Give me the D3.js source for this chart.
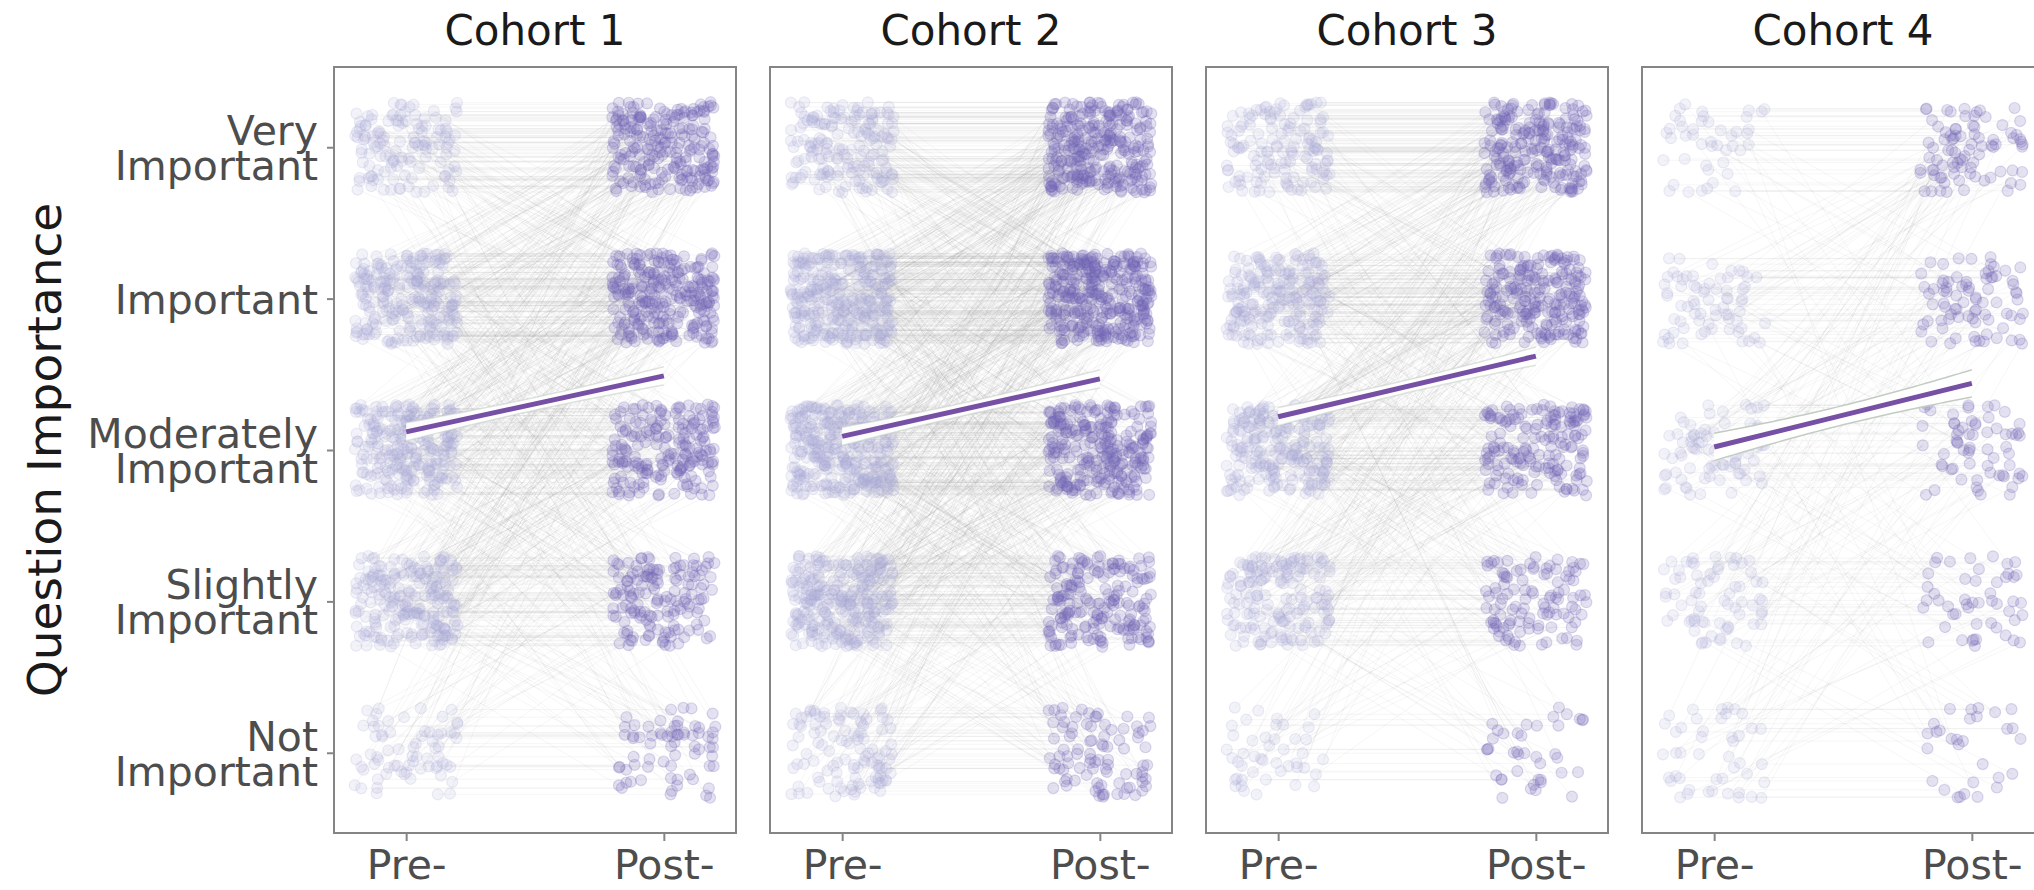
<!DOCTYPE html>
<html>
<head>
<meta charset="utf-8">
<script src="https://cdn.jsdelivr.net/npm/d3@7"></script>
<style>
  body { margin: 0; background: #ffffff; }
  svg { display: block; }
</style>
</head>
<body>
<svg id="chart" width="2034" height="890"></svg>
<script>
// ---- data -------------------------------------------------------------
const cohorts = ["Cohort 1", "Cohort 2", "Cohort 3", "Cohort 4"];
// response levels, lowest first (value 1..5)
const levels = ["Not Important", "Slightly Important", "Moderately Important", "Important", "Very Important"];
const levelTicks = [["Not", "Important"], ["Slightly", "Important"], ["Moderately", "Important"], ["Important"], ["Very", "Important"]];
const times = ["Pre-", "Post-"];

// number of respondents moving from a pre level (row) to a post level (column),
// rows/columns ordered Not → Slightly → Moderately → Important → Very
const transitionsC1 = [
  [24, 14, 14, 11,  7],
  [20, 70, 60, 44, 26],
  [14, 40, 80, 78, 48],
  [ 8, 18, 36,100, 78],
  [ 4,  8, 10, 37, 71]
];
const transitionsC2 = [
  [34, 22, 24, 18, 12],
  [26, 90, 80, 52, 32],
  [16, 48,110, 90, 56],
  [10, 22, 44,140,104],
  [ 4,  8, 12, 50, 96]
];
const transitionsC3 = [
  [12, 10, 10,  8,  5],
  [12, 52, 46, 38, 22],
  [ 8, 30, 76, 66, 40],
  [ 6, 12, 28, 96, 68],
  [ 2,  6, 10, 22,100]
];
const transitionsC4 = [
  [14,  9, 10,  7,  5],
  [ 8, 24, 16, 13,  9],
  [ 5, 11, 27, 20, 17],
  [ 2,  4,  9, 32, 23],
  [ 1,  2,  3,  8, 31]
];
const transitions = [transitionsC1, transitionsC2, transitionsC3, transitionsC4];

// fitted trend (pre → post) and half width of its confidence band at the ends
const fitPre  = [3.12, 3.09, 3.22, 3.02];
const fitPost = [3.49, 3.47, 3.62, 3.44];
const fitCI   = [0.06, 0.06, 0.06, 0.09];

// ---- layout -----------------------------------------------------------
const W = 2034, H = 890;
const panelTop = 67, panelH = 766, panelW = 402;
const panelLeft0 = 334, panelStep = 436;
const jitterX = 0.2, jitterY = 0.3;

const svg = d3.select("#chart");
svg.append("rect").attr("width", W).attr("height", H).attr("fill", "#ffffff");

const x = d3.scaleLinear().domain([0.72, 2.28]).range([0, panelW]);
const y = d3.scaleLinear().domain([0.47, 5.53]).range([panelH, 0]);

// jitter offsets in [0,1) taken from an integer hash of the respondent index,
// so the scatter is identical on every render
function hash01(n) {
  let h = (n + 0x9e3779b9) | 0;
  h = Math.imul(h ^ (h >>> 16), 0x85ebca6b);
  h = Math.imul(h ^ (h >>> 13), 0xc2b2ae35);
  h ^= h >>> 16;
  return (h >>> 0) / 4294967296;
}

let k = 0;
const participants = cohorts.map((c, ci) => {
  const list = [];
  transitions[ci].forEach((row, p) => {
    row.forEach((n, q) => {
      for (let i = 0; i < n; i++) {
        k++;
        const u = hash01(3 * k), v = hash01(3 * k + 1), w = hash01(3 * k + 2);
        const dy = (w * 2 - 1) * jitterY;
        list.push({
          xPre: 1 + (u * 2 - 1) * jitterX,
          xPost: 2 + (v * 2 - 1) * jitterX,
          yPre: p + 1 + dy,
          yPost: q + 1 + dy
        });
      }
    });
  });
  return list;
});

const defs = svg.append("defs");
defs.append("clipPath").attr("id", "panel-clip")
  .append("rect").attr("width", panelW).attr("height", panelH);

const preColor = "#aaa8d8", postColor = "#7066b6";
const fitColor = "#7650a4";

cohorts.forEach((name, ci) => {
  const g = svg.append("g")
    .attr("transform", `translate(${panelLeft0 + ci * panelStep},${panelTop})`);

  const body = g.append("g").attr("clip-path", "url(#panel-clip)");

  // paired lines
  body.append("g")
    .selectAll("line")
    .data(participants[ci])
    .join("line")
    .attr("x1", d => x(d.xPre)).attr("y1", d => y(d.yPre))
    .attr("x2", d => x(d.xPost)).attr("y2", d => y(d.yPost))
    .attr("stroke", "#808080")
    .attr("stroke-opacity", 0.075)
    .attr("stroke-width", 1);

  // pre points
  body.append("g")
    .selectAll("circle")
    .data(participants[ci])
    .join("circle")
    .attr("cx", d => x(d.xPre)).attr("cy", d => y(d.yPre))
    .attr("r", 5.5)
    .attr("fill", preColor).attr("fill-opacity", 0.15)
    .attr("stroke", preColor).attr("stroke-opacity", 0.2).attr("stroke-width", 1.2);

  // post points
  body.append("g")
    .selectAll("circle")
    .data(participants[ci])
    .join("circle")
    .attr("cx", d => x(d.xPost)).attr("cy", d => y(d.yPost))
    .attr("r", 5.5)
    .attr("fill", postColor).attr("fill-opacity", 0.19)
    .attr("stroke", postColor).attr("stroke-opacity", 0.24).attr("stroke-width", 1.2);

  // fitted trend with its confidence band
  const xs = d3.range(0, 41).map(i => 1 + i / 40);
  const fit = t => fitPre[ci] + (fitPost[ci] - fitPre[ci]) * (t - 1);
  const half = t => fitCI[ci] * Math.sqrt((2 - t) * (2 - t) + (t - 1) * (t - 1));
  body.append("path")
    .datum(xs)
    .attr("d", d3.area().x(t => x(t)).y0(t => y(fit(t) - half(t))).y1(t => y(fit(t) + half(t))))
    .attr("fill", "#ffffff").attr("fill-opacity", 0.95);
  [-1, 1].forEach(s => {
    body.append("path")
      .datum(xs)
      .attr("d", d3.line().x(t => x(t)).y(t => y(fit(t) + s * half(t))))
      .attr("fill", "none").attr("stroke", "#c3ccc3")
      .attr("stroke-opacity", ci === 3 ? 1 : 0.55)
      .attr("stroke-width", 1.5);
  });
  body.append("path")
    .datum([1, 2])
    .attr("d", d3.line().x(t => x(t)).y(t => y(fit(t))))
    .attr("fill", "none").attr("stroke", fitColor).attr("stroke-width", 5);

  // panel border
  g.append("rect")
    .attr("x", 0).attr("y", 0).attr("width", panelW).attr("height", panelH)
    .attr("fill", "none").attr("stroke", "#858585").attr("stroke-width", 2);

  // strip title
  g.append("text")
    .attr("x", panelW / 2).attr("y", 45 - panelTop)
    .attr("text-anchor", "middle")
    .attr("font-family", "DejaVu Sans").attr("font-size", 42)
    .attr("fill", "#1a1a1a")
    .text(name);

  // x axis
  const xAxis = g.append("g")
    .attr("transform", `translate(0,${panelH})`)
    .call(d3.axisBottom(x).tickValues([1, 2]).tickFormat((d, i) => times[i]).tickSize(8).tickPadding(8));
  xAxis.select(".domain").remove();
  xAxis.selectAll(".tick line").attr("stroke", "#858585").attr("stroke-width", 2);
  xAxis.selectAll(".tick text")
    .attr("font-family", "DejaVu Sans").attr("font-size", 41)
    .attr("fill", "#4d4d4d").attr("dy", "0.72em");

  // y axis on the first panel only
  if (ci === 0) {
    const yAxis = g.append("g")
      .call(d3.axisLeft(y).tickValues([1, 2, 3, 4, 5]).tickFormat("").tickSize(7));
    yAxis.select(".domain").remove();
    yAxis.selectAll(".tick line").attr("stroke", "#858585").attr("stroke-width", 2);
    const lineGap = 35, capH = 30;
    yAxis.selectAll(".tick").each(function (d) {
      const lines = levelTicks[d - 1];
      const t = d3.select(this).append("text")
        .attr("x", -16).attr("text-anchor", "end")
        .attr("font-family", "DejaVu Sans").attr("font-size", 41)
        .attr("fill", "#4d4d4d");
      const first = capH / 2 - (lines.length - 1) * lineGap / 2;
      lines.forEach((s, i) => {
        t.append("tspan").attr("x", -16).attr("y", first + i * lineGap).text(s);
      });
    });
  }
});

// y axis title
svg.append("text")
  .attr("transform", "translate(61,450) rotate(-90)")
  .attr("text-anchor", "middle")
  .attr("font-family", "DejaVu Sans").attr("font-size", 47)
  .attr("fill", "#1a1a1a")
  .text("Question Importance");
</script>
</body>
</html>
